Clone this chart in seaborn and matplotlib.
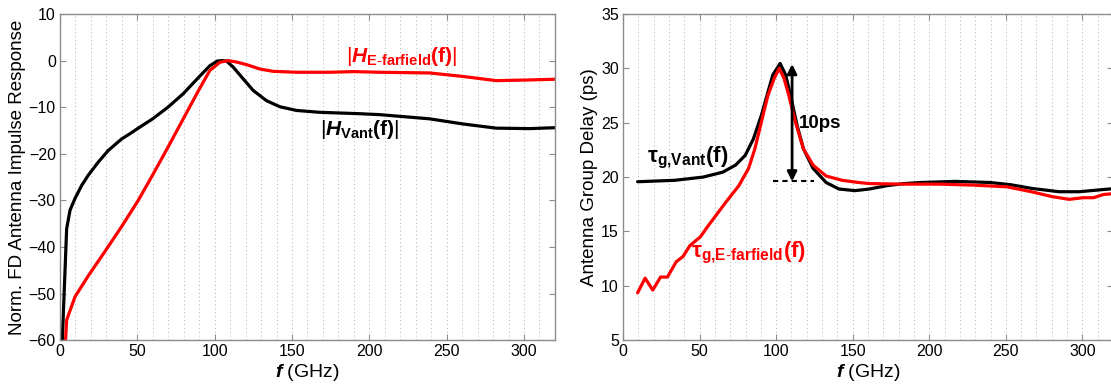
import numpy as np
import pandas as pd
import matplotlib
matplotlib.use("Agg")
import matplotlib.pyplot as plt
import seaborn as sns

# ---------------- data ----------------
f_h_vant = [1.5, 4.3, 6.5, 9.7, 14, 18.3, 24.7, 31.2, 39.9, 45.2, 50.6, 59.9, 69.8, 79.7, 89.6,
            96.9, 101.6, 104.5, 107.7, 112, 118.4, 124.9, 133.5, 142.1, 152.9, 168, 193.8,
            206.7, 239, 260.5, 282, 303.6, 320]
h_vant = [-60, -36.1, -32.1, -29.6, -26.8, -24.6, -21.8, -19.3, -16.8, -15.7, -14.5, -12.5, -10.0,
          -7.1, -3.6, -1.1, -0.1, 0, -0.1, -1.4, -3.9, -6.4, -8.6, -9.9, -10.7, -11.1, -11.4,
          -11.6, -12.5, -13.6, -14.5, -14.6, -14.4]

f_h_efar = [3.6, 4.3, 9.7, 18.3, 29, 39.9, 50.6, 60, 69.8, 79.7, 89.6, 96.9, 103.4, 108.7,
            114.1, 120.6, 129.2, 137.8, 152.9, 174.4, 189.5, 206.7, 239, 260.5, 282, 303.6, 320]
h_efar = [-60, -55.7, -50.7, -46.2, -41.0, -35.6, -30.0, -24.5, -18.6, -12.5, -6.4, -2.1, -0.35, 0,
          -0.3, -0.86, -1.8, -2.3, -2.5, -2.5, -2.36, -2.5, -2.65, -3.4, -4.3, -4.15, -4.0]

f_tau_vant = [9.5, 33.7, 52.4, 65.1, 73.5, 79.8, 85.1, 90.4, 94.6, 97.8, 102.6, 106.2, 109.4,
              113.6, 117.8, 124.1, 132.6, 141, 151.6, 160.8, 172, 183.3, 194.6, 217, 239.6,
              253, 266.7, 284.7, 298, 309.5, 322.5]
tau_vant = [19.57, 19.7, 20.0, 20.45, 21.1, 22.0, 23.5, 25.7, 27.8, 29.4, 30.45, 29.4, 27.5,
            24.8, 22.6, 20.8, 19.5, 18.9, 18.75, 18.9, 19.2, 19.4, 19.5, 19.6, 19.5, 19.3,
            18.96, 18.65, 18.65, 18.8, 18.96]

f_tau_efar = [9.5, 14.4, 19.4, 24.5, 29, 34.7, 39.2, 43.7, 50.5, 55, 67.2, 75.6, 82, 86.1, 90.4,
              94.6, 98.8, 102, 105.1, 108.3, 112.5, 117.8, 124.1, 132.6, 143.1, 153.7, 160.8,
              183.3, 205.9, 228.4, 250.9, 266.7, 280.2, 291.4, 300.5, 307.2, 314, 322.5]
tau_efar = [9.35, 10.7, 9.6, 10.8, 10.8, 12.2, 12.7, 13.7, 14.5, 15.4, 17.7, 19.2, 20.8, 22.6,
            25.1, 27.5, 29.1, 30.0, 29.1, 27.5, 25.1, 22.6, 21.1, 20.1, 19.7, 19.5, 19.4,
            19.35, 19.35, 19.26, 19.1, 18.65, 18.2, 17.95, 18.1, 18.1, 18.4, 18.5]

left_yticks = [-60, -50, -40, -30, -20, -10, 0, 10]
right_yticks = [5, 10, 15, 20, 25, 30, 35]
xticks_major = [0, 50, 100, 150, 200, 250, 300]

# ---------------- style ----------------
sns.set_theme(style="ticks")
plt.rcParams['font.family'] = ['Liberation Sans', 'DejaVu Sans']
plt.rcParams['mathtext.fontset'] = 'custom'
plt.rcParams['mathtext.rm'] = 'Liberation Sans'
plt.rcParams['mathtext.it'] = 'Liberation Sans:italic'
plt.rcParams['mathtext.bf'] = 'Liberation Sans:bold'
plt.rcParams['mathtext.bfit'] = 'Liberation Sans:bold:italic'

fig = plt.figure(figsize=(11.11, 3.9), dpi=100)
ax1 = fig.add_axes([0.054, 0.128, 0.4455, 0.836])
ax2 = fig.add_axes([0.5608, 0.128, 0.4410, 0.836])

spine_col = '#8c8c8c'
lw = 2.3

def style_axes(ax):
    for s in ax.spines.values():
        s.set_color(spine_col)
        s.set_linewidth(1.0)
    ax.set_xticks(xticks_major)
    ax.set_xticks(np.arange(0, 330, 10), minor=True)
    ax.tick_params(which='major', direction='in', length=4, width=0.8, color=spine_col,
                   top=True, right=True, labelsize=11.5, labelcolor='black', pad=3)
    ax.tick_params(which='minor', length=0, top=True, right=True)
    ax.grid(True, axis='x', which='both', linestyle=(0, (1, 3)), color='#b0b0b0', linewidth=0.7)
    ax.grid(False, axis='y')
    ax.set_xlabel(r'$\mathbfit{f}$ (GHz)', fontsize=14, labelpad=2, color='black')

# ---------------- left panel ----------------
d1 = pd.DataFrame({'f': f_h_vant, 'v': h_vant})
d2 = pd.DataFrame({'f': f_h_efar, 'v': h_efar})
sns.lineplot(data=d1, x='f', y='v', ax=ax1, color='black', linewidth=lw, sort=False)
sns.lineplot(data=d2, x='f', y='v', ax=ax1, color='#ff0000', linewidth=lw, sort=False)
ax1.set_xlim(0, 320)
ax1.set_ylim(-60, 10)
ax1.set_yticks(left_yticks)
ax1.set_yticklabels(['\u221260', '\u221250', '\u221240', '\u221230', '\u221220', '\u221210', '0', '10'])
style_axes(ax1)
ax1.set_ylabel('Norm. FD Antenna Impulse Response', fontsize=13.5, labelpad=2, color='black')

ax1.text(221, 0.8, r'$|\mathbfit{H}_{\mathbf{E}\text{-}\mathbf{farfield}}\mathbf{(f)}|$',
         color='#ff0000', fontsize=15, ha='center', va='center')
ax1.text(194, -14.8, r'$|\mathbfit{H}_{\mathbf{Vant}}\mathbf{(f)}|$',
         color='black', fontsize=15, ha='center', va='center')

# ---------------- right panel ----------------
d3 = pd.DataFrame({'f': f_tau_vant, 'v': tau_vant})
d4 = pd.DataFrame({'f': f_tau_efar, 'v': tau_efar})
sns.lineplot(data=d3, x='f', y='v', ax=ax2, color='black', linewidth=lw, sort=False)
sns.lineplot(data=d4, x='f', y='v', ax=ax2, color='#ff0000', linewidth=lw, sort=False)
ax2.set_xlim(10, 320)
ax2.set_ylim(5, 35)
ax2.set_yticks(right_yticks)
style_axes(ax2)
ax2.set_ylabel('Antenna Group Delay (ps)', fontsize=13.5, labelpad=2, color='black')

ax2.annotate('', xy=(110.4, 30.4), xytext=(110.4, 19.6),
             arrowprops=dict(arrowstyle='<|-|>', color='black', lw=2.0, mutation_scale=14,
                             shrinkA=0, shrinkB=0))
ax2.plot([97.8, 125], [19.6, 19.6], color='black', linestyle=(0, (2.5, 2)), linewidth=1.5)
ax2.text(115, 24.9, '10ps', fontsize=13.5, fontweight='bold', ha='left', va='center',
         color='black')
ax2.text(42, 21.8, r'$\mathbf{\tau_{g{,}Vant}(f)}$', fontsize=16, ha='center', va='center',
         color='black')
ax2.text(82, 13.0, r'$\mathbf{\tau_{g{,}E\text{-}farfield}(f)}$', fontsize=16, ha='center',
         va='center', color='#ff0000')

fig.savefig('out.png', dpi=100)
